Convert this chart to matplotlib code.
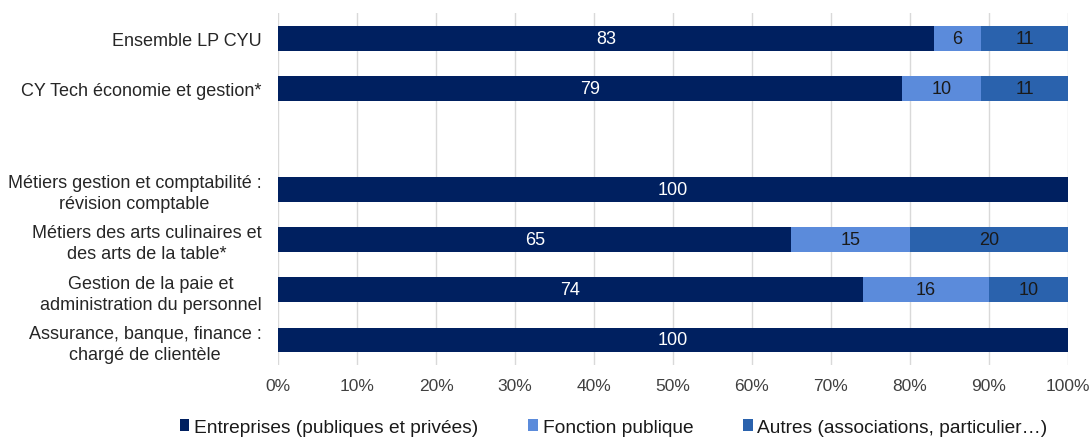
import matplotlib
matplotlib.use("Agg")
import matplotlib.pyplot as plt
import numpy as np

plt.rcParams['font.family'] = ['Liberation Sans', 'DejaVu Sans']

categories = ["Ensemble LP CYU", "CY Tech économie et gestion*", "",
              "Métiers gestion et comptabilité :\nrévision comptable",
              "Métiers des arts culinaires et\ndes arts de la table*",
              "Gestion de la paie et\nadministration du personnel",
              "Assurance, banque, finance :\nchargé de clientèle"]
entreprises = [83, 79, 0, 100, 65, 74, 100]
fonction = [6, 10, 0, 0, 15, 16, 0]
autres = [11, 11, 0, 0, 20, 10, 0]
series_names = ["Entreprises (publiques et privées)", "Fonction publique",
                "Autres (associations, particulier…)"]
colors = ["#002060", "#5B8BDB", "#2A62AD"]
text_colors = ["white", "#1a1a1a", "#1a1a1a"]
xticks = [0, 10, 20, 30, 40, 50, 60, 70, 80, 90, 100]

fig = plt.figure(figsize=(10.92, 4.39), dpi=100)
ax = fig.add_axes([0.2546, 0.166, 0.7234, 0.8014])

y = np.arange(len(categories))
left = np.zeros(len(categories))
for vals, col, tc, name in zip([entreprises, fonction, autres], colors, text_colors, series_names):
    vals = np.array(vals, dtype=float)
    ax.barh(y, vals, left=left, height=0.49, color=col, label=name, zorder=3)
    for yi, v, l in zip(y, vals, left):
        if v > 0:
            ax.text(l + v / 2, yi, f"{int(v)}", ha='center', va='center',
                    color=tc, fontsize=13, zorder=4)
    left += vals

ax.set_ylim(len(categories) - 0.5, -0.5)
ax.set_xlim(0, 100)
ax.set_yticks(y)
ax.set_yticklabels(categories, fontsize=13, ha='right', multialignment='center',
                   linespacing=1.3, color='#262626')
ax.tick_params(axis='y', length=0, pad=12)
ax.set_xticks(xticks)
ax.set_xticklabels([f"{t}%" for t in xticks], fontsize=12.5, color='#404040')
ax.tick_params(axis='x', length=0, pad=9)
ax.grid(axis='x', color='#d9d9d9', linewidth=1, zorder=0)
for s in ax.spines.values():
    s.set_visible(False)

handles, labels = ax.get_legend_handles_labels()
fig.legend(handles, labels, loc='center', bbox_to_anchor=(0.562, 0.025), ncol=3,
           frameon=False, fontsize=13.8, handlelength=0.5, handleheight=0.6,
           handletextpad=0.25, columnspacing=2.6, labelcolor='#1a1a1a')

fig.savefig("out.png", dpi=100)
